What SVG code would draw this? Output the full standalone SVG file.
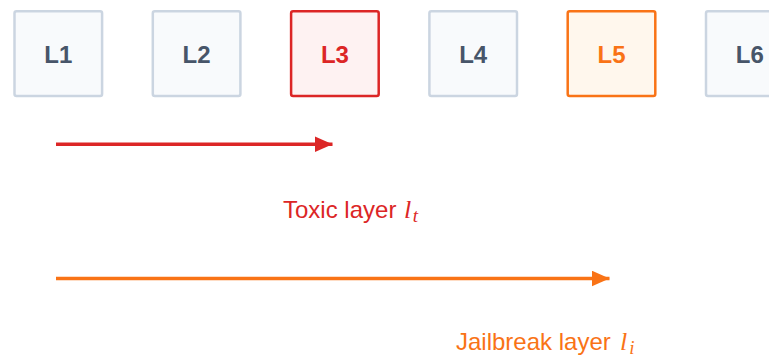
<svg xmlns="http://www.w3.org/2000/svg" width="769" height="357" viewBox="0 0 769 357">
  <style>
    .box { stroke-width: 2.5; }
    .plain rect { fill: #f8fafc; stroke: #cbd5e1; }
    .plain text { fill: #475569; }
    .toxic rect { fill: #fef2f2; stroke: #dc2626; }
    .toxic text { fill: #dc2626; }
    .jail rect { fill: #fff7ed; stroke: #f97316; }
    .jail text { fill: #f97316; }
    .lbl { font-family: "Liberation Sans", Arial, sans-serif; font-size: 24px; font-weight: bold; text-anchor: middle; }
    .cap { font-family: "Liberation Sans", Arial, sans-serif; font-size: 24px; }
    .math { font-family: "Liberation Serif", "Times New Roman", serif; font-style: italic; }
  </style>
  <defs>
    <marker id="headRed" viewBox="0 0 18 16" refX="18" refY="8" markerWidth="18" markerHeight="16" markerUnits="userSpaceOnUse" orient="auto">
      <path d="M0,0 L18,8 L0,16 Z" fill="#dc2626"/>
    </marker>
    <marker id="headOrange" viewBox="0 0 18 16" refX="18" refY="8" markerWidth="18" markerHeight="16" markerUnits="userSpaceOnUse" orient="auto">
      <path d="M0,0 L18,8 L0,16 Z" fill="#f97316"/>
    </marker>
  </defs>

  <!-- layer boxes -->
  <g id="L1" class="plain">
    <rect class="box" x="14.5" y="11.2" width="87.6" height="84.8" rx="2"/>
    <text class="lbl" x="58.3" y="62.5">L1</text>
  </g>
  <g id="L2" class="plain">
    <rect class="box" x="152.8" y="11.2" width="87.6" height="84.8" rx="2"/>
    <text class="lbl" x="196.6" y="62.5">L2</text>
  </g>
  <g id="L3" class="toxic">
    <rect class="box" x="291.1" y="11.2" width="87.6" height="84.8" rx="2"/>
    <text class="lbl" x="334.9" y="62.5">L3</text>
  </g>
  <g id="L4" class="plain">
    <rect class="box" x="429.4" y="11.2" width="87.6" height="84.8" rx="2"/>
    <text class="lbl" x="473.2" y="62.5">L4</text>
  </g>
  <g id="L5" class="jail">
    <rect class="box" x="567.7" y="11.2" width="87.6" height="84.8" rx="2"/>
    <text class="lbl" x="611.5" y="62.5">L5</text>
  </g>
  <g id="L6" class="plain">
    <rect class="box" x="706" y="11.2" width="87.6" height="84.8" rx="2"/>
    <text class="lbl" x="749.8" y="62.5">L6</text>
  </g>

  <!-- arrows -->
  <g id="connectors">
    <line x1="56" y1="144.2" x2="332.5" y2="144.2" stroke="#dc2626" stroke-width="3.5" marker-end="url(#headRed)"/>
    <line x1="56" y1="278.5" x2="609.5" y2="278.5" stroke="#f97316" stroke-width="3.5" marker-end="url(#headOrange)"/>
  </g>

  <!-- captions -->
  <g id="toxic-label" fill="#dc2626">
    <text class="cap" x="283" y="217.5">Toxic layer <tspan class="math" font-size="26" dx="1">l</tspan><tspan class="math" font-size="19" dx="1.5" dy="4.5">t</tspan></text>
  </g>
  <g id="jailbreak-label" fill="#f97316">
    <text class="cap" x="456" y="349.5">Jailbreak layer <tspan class="math" font-size="26" dx="2.5">l</tspan><tspan class="math" font-size="19" dx="2" dy="4.5">i</tspan></text>
  </g>
</svg>
